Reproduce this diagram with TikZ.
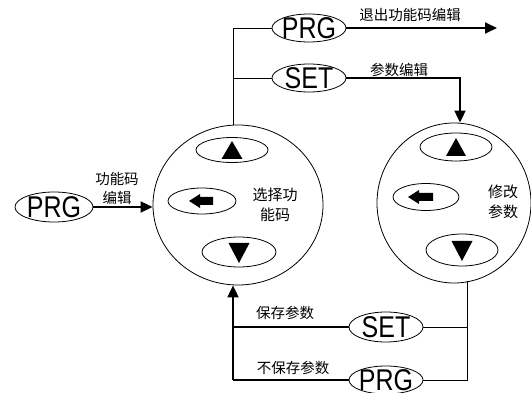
\documentclass[tikz,border=0pt]{standalone}
\usepackage{fontspec}
\setmainfont{Liberation Sans}
\newfontfamily\cjk{Noto Sans CJK SC}
\usetikzlibrary{shapes.geometric,arrows.meta}
\newcommand{\keytxt}[1]{\scalebox{1}[1.2]{#1}}
\begin{document}
\begin{tikzpicture}[x=1pt,y=-1pt,
  thinl/.style={line width=0.8pt},
  thickl/.style={line width=1.8pt},
  arr/.style={-{Triangle[length=12pt,width=11pt]}},
  keybtn/.style={ellipse,draw,line width=0.8pt,inner sep=-3pt,minimum width=74pt,minimum height=28pt,font=\fontsize{25}{25}\selectfont},
  bigc/.style={ellipse,draw,line width=0.8pt,inner sep=0pt},
  btn/.style={ellipse,draw,line width=0.8pt,inner sep=0pt},
  lbl/.style={font=\cjk\fontsize{14.5}{19}\selectfont,align=center,inner sep=0pt},
  tri/.style={fill=black,draw=none}]
\useasboundingbox (0,0) rectangle (531,393);
% big circles
\node[bigc,minimum width=170pt,minimum height=160pt] (lc) at (238,205) {};
\node[bigc,minimum width=154pt,minimum height=160pt] (rc) at (454,203) {};
% buttons in left circle
\node[btn,minimum width=72pt,minimum height=25pt] (lu) at (232,150) {};
\node[btn,minimum width=68pt,minimum height=26pt] (ll) at (202,201) {};
\node[btn,minimum width=74pt,minimum height=30pt] (ld) at (239,252) {};
% buttons in right circle
\node[btn,minimum width=72pt,minimum height=28pt] (ru) at (456,147) {};
\node[btn,minimum width=66pt,minimum height=27pt] (rl) at (426,197) {};
\node[btn,minimum width=72pt,minimum height=32pt] (rd) at (462,250) {};
% symbols
\fill[tri] ([shift={(0,-9)}]lu.center) -- ([shift={(10.5,9)}]lu.center) -- ([shift={(-10.5,9)}]lu.center) -- cycle;
\fill[tri] ([shift={(0,11)}]ld.center) -- ([shift={(10.5,-9)}]ld.center) -- ([shift={(-10.5,-9)}]ld.center) -- cycle;
\fill[tri] ([shift={(-13,0)}]ll.center) -- ([shift={(-2,-7)}]ll.center) -- ([shift={(-2,-4)}]ll.center) -- ([shift={(11,-4)}]ll.center) -- ([shift={(11,4)}]ll.center) -- ([shift={(-2,4)}]ll.center) -- ([shift={(-2,7)}]ll.center) -- cycle;
\fill[tri] ([shift={(0,-9)}]ru.center) -- ([shift={(10,9)}]ru.center) -- ([shift={(-10,9)}]ru.center) -- cycle;
\fill[tri] ([shift={(0,11)}]rd.center) -- ([shift={(10.5,-9)}]rd.center) -- ([shift={(-10.5,-9)}]rd.center) -- cycle;
\fill[tri] ([shift={(-18,0)}]rl.center) -- ([shift={(-7,-7)}]rl.center) -- ([shift={(-7,-4)}]rl.center) -- ([shift={(7,-4)}]rl.center) -- ([shift={(7,4)}]rl.center) -- ([shift={(-7,4)}]rl.center) -- ([shift={(-7,7)}]rl.center) -- cycle;
% circle texts
\node[lbl,font=\cjk\fontsize{15}{20}\selectfont] (lt) at (275,205) {选择功\\能码};
\node[lbl,font=\cjk\fontsize{15}{20}\selectfont] (rt) at (503,202) {修改\\参数};
% key nodes
\node[keybtn] (prg1) at (309,28) {\keytxt{PRG}};
\node[keybtn] (set1) at (309,78) {\keytxt{SET}};
\node[keybtn,minimum width=78pt,minimum height=30pt] (prg0) at (54,207) {\keytxt{PRG}};
\node[keybtn,minimum height=30pt] (set2) at (386,327) {\keytxt{SET}};
\node[keybtn] (prg2) at (386,380) {\keytxt{PRG}};
% coordinates
\coordinate (tl) at (233,28);
\coordinate (bl) at (233,380);
\coordinate (rr) at (467,380);
\coordinate (exit) at (497,28);
% top connectors
\draw[thinl] (lc.north -| tl) -- (tl) -- (prg1.west);
\draw[thinl] (set1.west) -- (set1.west -| tl);
\draw[thickl,arr] (prg1.east) -- (exit);
\draw[thickl,arr] (set1.east) -| ([xshift=6pt]rc.north);
% left
\draw[thickl,arr] (prg0.east) -- (prg0.east -| lc.west);
% bottom
\draw[thinl] (rc.south -| rr) ++(0,-2) -- (rr) -- (prg2.east);
\draw[thinl] (set2.east) -- (set2.east -| rr);
\draw[thickl] (prg2.west) -- (bl);
\draw[thickl,arr] (bl) -- (lc.south -| bl);
\draw[thickl] (set2.west) -- (set2.west -| bl);
% labels
\node[lbl] (l1) at (410,15) {退出功能码编辑};
\node[lbl] (l2) at (399,70) {参数编辑};
\node[lbl] (l3) at (117,188) {功能码\\编辑};
\node[lbl] (l4) at (285,313) {保存参数};
\node[lbl] (l5) at (293,368) {不保存参数};
\end{tikzpicture}
\end{document}
